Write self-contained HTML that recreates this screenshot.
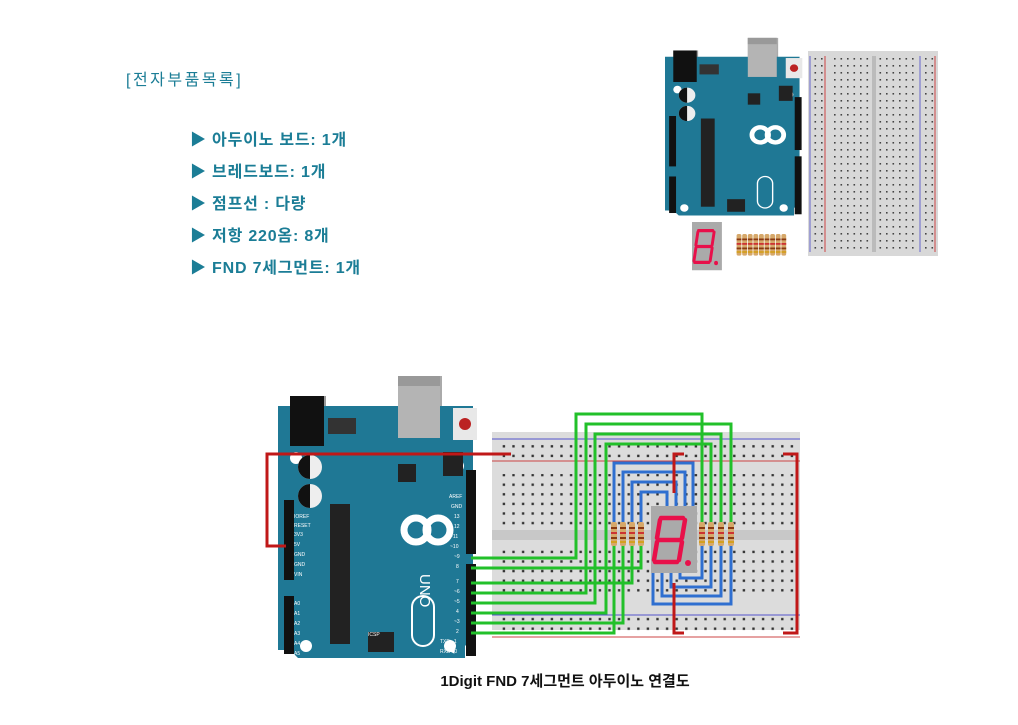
<!DOCTYPE html>
<html><head><meta charset="utf-8"><style>
body{margin:0;background:#fff;width:1018px;height:725px;overflow:hidden;position:relative;font-family:"Liberation Sans","Noto Sans CJK KR",sans-serif}
.t{position:absolute;color:#1b7d96;font-size:16px;white-space:nowrap;letter-spacing:0.8px;font-weight:bold}
.cap{position:absolute;left:0;width:1130px;text-align:center;top:670px;font-weight:bold;font-size:15px;color:#111}
</style></head><body>
<div class="t" style="left:126px;top:66px;font-size:16px;letter-spacing:2.5px;font-weight:normal">[전자부품목록]</div>
<div class="t" style="left:190px;top:126px">▶ 아두이노 보드: 1개</div>
<div class="t" style="left:190px;top:158px">▶ 브레드보드: 1개</div>
<div class="t" style="left:190px;top:190px">▶ 점프선 : 다량</div>
<div class="t" style="left:190px;top:222px">▶ 저항 220옴: 8개</div>
<div class="t" style="left:190px;top:254px">▶ FND 7세그먼트: 1개</div>
<div class="cap">1Digit FND 7세그먼트 아두이노 연결도</div>
<svg width="1018" height="725" style="position:absolute;left:0;top:0">
<defs>
<pattern id="hp" width="9.6" height="9.6" patternUnits="userSpaceOnUse"><rect x="3.5" y="3.5" width="2.4" height="2.4" fill="#333"/></pattern>
<pattern id="hps" width="6.5" height="7" patternUnits="userSpaceOnUse"><rect x="2" y="2" width="1.6" height="1.6" fill="#444"/></pattern>
<g id="ard">
<rect x="12" y="-4" width="36" height="52" fill="#999"/>
<rect x="120" y="-24" width="44" height="62" fill="#aaa"/>
<path d="M0 6 H195 V238 L187 246 V258 H20 L12 250 H0 Z" fill="#1f7895"/>
<rect x="12" y="-4" width="34" height="50" fill="#111"/>
<rect x="120" y="-24" width="42" height="62" fill="#b4b4b4"/>
<rect x="120" y="-24" width="42" height="10" fill="#999"/>
<rect x="175" y="8" width="24" height="32" fill="#e8e8e8"/>
<circle cx="187" cy="24" r="6" fill="#b22"/>
<rect x="50" y="18" width="28" height="16" fill="#333"/>
<circle cx="18" cy="58" r="6" fill="#fff"/><circle cx="180" cy="66" r="6" fill="#fff"/>
<circle cx="28" cy="246" r="6" fill="#fff"/><circle cx="172" cy="246" r="6" fill="#fff"/>
<circle cx="32" cy="67" r="12" fill="#eee"/><path d="M32 55 A12 12 0 0 0 32 79Z" fill="#111"/>
<circle cx="32" cy="96" r="12" fill="#eee"/><path d="M32 84 A12 12 0 0 0 32 108Z" fill="#111"/>
<rect x="120" y="64" width="18" height="18" fill="#222"/>
<rect x="52" y="104" width="20" height="140" fill="#222"/>
<rect x="6" y="100" width="10" height="80" fill="#111"/>
<rect x="6" y="196" width="10" height="58" fill="#111"/>
<rect x="188" y="70" width="10" height="84" fill="#111"/>
<rect x="188" y="164" width="10" height="92" fill="#111"/>
<rect x="165" y="52" width="20" height="24" fill="#222"/>
<rect x="90" y="232" width="26" height="20" fill="#222"/>
<g fill="none" stroke="#fff" stroke-width="7"><circle cx="138" cy="130" r="12"/><circle cx="160" cy="130" r="12"/></g>
<rect x="134" y="196" width="22" height="50" rx="11" fill="none" stroke="#fff" stroke-width="2"/>
</g>
<g id="fnd"><rect width="46" height="67" fill="#aaa"/>
<path d="M10 12h22M9 14l-3 18M34 14l-3 18M8 34h22M6 36l-3 18M31 36l-3 18M4 56h22" stroke="#e8104a" stroke-width="4.5" stroke-linecap="round" fill="none"/>
<circle cx="37" cy="57" r="3" fill="#e8104a"/></g>
<g id="res"><rect x="-3" y="0" width="6" height="24" rx="2" fill="#d6a86a"/><rect x="-3" y="5" width="6" height="2" fill="#8a3a12"/><rect x="-3" y="10" width="6" height="2" fill="#c33"/><rect x="-3" y="15" width="6" height="2" fill="#8a3a12"/><rect x="-3" y="19" width="6" height="2" fill="#d4a020"/></g>
</defs>

<use href="#ard" transform="translate(665,53) scale(0.69,0.63)"/>
<rect x="808" y="51" width="130" height="205" fill="#d8d8d8"/>
<rect x="812" y="58" width="12" height="192" fill="url(#hps)"/>
<rect x="922" y="58" width="12" height="192" fill="url(#hps)"/>
<rect x="832" y="58" width="40" height="192" fill="url(#hps)"/>
<rect x="876" y="58" width="40" height="192" fill="url(#hps)"/>
<rect x="872" y="56" width="4" height="196" fill="#bbb"/>
<line x1="810" y1="56" x2="810" y2="252" stroke="#66c" /><line x1="825" y1="56" x2="825" y2="252" stroke="#c44"/>
<line x1="920" y1="56" x2="920" y2="252" stroke="#66c" /><line x1="935" y1="56" x2="935" y2="252" stroke="#c44"/>
<use href="#fnd" transform="translate(692,222) scale(0.65,0.72)"/>
<g transform="translate(739,234) scale(0.8,0.9)"><use href="#res" x="0"/><use href="#res" x="7"/><use href="#res" x="14"/><use href="#res" x="21"/><use href="#res" x="28"/><use href="#res" x="35"/><use href="#res" x="42"/><use href="#res" x="49"/><use href="#res" x="56"/></g>

<rect x="492" y="432" width="308" height="198" fill="#dcdcdc"/>
<line x1="492" y1="439" x2="800" y2="439" stroke="#55c"/><line x1="492" y1="461" x2="800" y2="461" stroke="#c44"/>
<line x1="492" y1="615" x2="800" y2="615" stroke="#55c"/><line x1="492" y1="637" x2="800" y2="637" stroke="#c44"/>
<rect x="492" y="530" width="308" height="10" fill="#c8c8c8"/>
<rect x="500" y="440" width="295" height="18" fill="url(#hp)"/>
<rect x="500" y="616" width="295" height="18" fill="url(#hp)"/>
<rect x="496" y="474" width="300" height="52" fill="url(#hp)"/>
<rect x="496" y="544" width="300" height="52" fill="url(#hp)"/>

<use href="#ard" transform="translate(278,400)"/>
<g font-size="5" fill="#fff" font-family="Liberation Sans"><text x="449" y="498">AREF</text><text x="451" y="508">GND</text><text x="454" y="518">13</text><text x="454" y="528">12</text><text x="450" y="538">~11</text><text x="450" y="548">~10</text><text x="454" y="558">~9</text><text x="456" y="568">8</text><text x="456" y="583">7</text><text x="454" y="593">~6</text><text x="454" y="603">~5</text><text x="456" y="613">4</text><text x="454" y="623">~3</text><text x="456" y="633">2</text><text x="440" y="643">TXD▶1</text><text x="440" y="653">RXD◀0</text>
<text x="294" y="518">IOREF</text><text x="294" y="527">RESET</text><text x="294" y="536">3V3</text><text x="294" y="546">5V</text><text x="294" y="556">GND</text><text x="294" y="566">GND</text><text x="294" y="576">VIN</text>
<text x="294" y="605">A0</text><text x="294" y="615">A1</text><text x="294" y="625">A2</text><text x="294" y="635">A3</text><text x="294" y="645">A4</text><text x="294" y="655">A5</text><text x="368" y="636">ICSP</text></g>
<text transform="translate(420,574) rotate(90)" font-size="15" fill="#fff" font-family="Liberation Sans">UNO</text>

<use href="#fnd" x="651" y="506"/>
<g fill="none" stroke="#2f6fd0" stroke-width="3">
<path d="M614 522V463H693V506"/><path d="M623 522V472H685V506"/><path d="M632 522V482H676V506"/><path d="M641 522V492H667V506"/>
<path d="M731 545V604H653V573"/><path d="M721 545V596H662V573"/><path d="M711 545V587H671V573"/><path d="M702 545V578H680V573"/>
</g>
<use href="#res" x="614" y="522"/><use href="#res" x="623" y="522"/><use href="#res" x="632" y="522"/><use href="#res" x="641" y="522"/>
<use href="#res" x="702" y="522"/><use href="#res" x="711" y="522"/><use href="#res" x="721" y="522"/><use href="#res" x="731" y="522"/>
<g fill="none" stroke="#22c02a" stroke-width="3">
<path d="M471 558H576V414H702V522"/><path d="M471 593H586V424H731V522"/><path d="M471 603H595V434H721V522"/><path d="M471 613H606V444H711V522"/>
<path d="M471 568H641V546"/><path d="M471 583H632V546"/><path d="M471 623H623V546"/><path d="M471 633H614V546"/>
</g>
<g fill="none" stroke="#c01818" stroke-width="3">
<path d="M286 546H267V454H511"/><path d="M684 454H674V493"/><path d="M674 583V633H684"/><path d="M783 454H797V633H783"/>
</g>
</svg>
</body></html>
